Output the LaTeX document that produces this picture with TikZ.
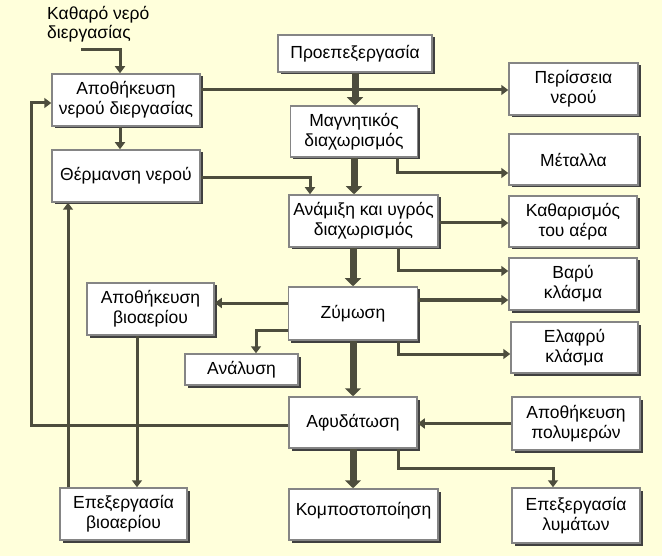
\documentclass[tikz,border=0pt]{standalone}
\usepackage{fontspec}
\setmainfont{Liberation Sans}
\usetikzlibrary{arrows.meta,shadows,calc}
\definecolor{bgyel}{HTML}{FFFFDB}
\definecolor{lncol}{HTML}{4D4D3D}
\definecolor{bdcol}{HTML}{858585}
\definecolor{shcol}{HTML}{404040}
\tikzset{
  box/.style={draw=bdcol, line width=1.5pt, fill=white, inner sep=2pt, align=center,
    font=\fontsize{17.5}{20}\selectfont,
    drop shadow={shadow xshift=2.5pt, shadow yshift=-2.5pt, fill=shcol, opacity=1}},
  flow/.style={draw=lncol, line width=3pt, -{Triangle[length=7pt,width=10pt]}},
  mainflow/.style={draw=lncol, line width=7pt, -{Triangle[length=8pt,width=16pt]}},
  lbl/.style={inner sep=0pt, align=left, font=\fontsize{17.5}{19}\selectfont}
}
\begin{document}
\begin{tikzpicture}[x=1pt,y=-1pt]
\useasboundingbox (0,0) rectangle (667,556);
\fill[white] (0,0) rectangle (667,556);
\fill[bgyel] (0,0) rectangle (662,556);

% label
\node[lbl, anchor=north west] (clean) at (47,6) {Καθαρό νερό\\διεργασίας};
\coordinate (c0) at (81,50);

% boxes
\node[box, minimum width=148pt, minimum height=52pt] (wst) at (126,100) {Αποθήκευση\\νερού διεργασίας};
\node[box, minimum width=148pt, minimum height=52pt] (heat) at (126,176) {Θέρμανση νερού};
\node[box, minimum width=154pt, minimum height=37pt] (pre) at (355,53.5) {Προεπεξεργασία};
\node[box, minimum width=129pt, minimum height=52pt] (exc) at (573.5,89) {Περίσσεια\\νερού};
\node[box, minimum width=127pt, minimum height=51pt] (mag) at (354,131.5) {Μαγνητικός\\διαχωρισμός};
\node[box, minimum width=129pt, minimum height=51pt] (met) at (573.5,159.5) {Μέταλλα};
\node[box, minimum width=149pt, minimum height=52pt] (mix) at (363.5,221) {Ανάμιξη και υγρός\\διαχωρισμός};
\node[box, minimum width=128pt, minimum height=51pt] (air) at (573,221.5) {Καθαρισμός\\του αέρα};
\node[box, minimum width=128pt, minimum height=52pt] (heavy) at (573,284) {Βαρύ\\κλάσμα};
\node[box, minimum width=127pt, minimum height=51pt] (light) at (574.5,347.5) {Ελαφρύ\\κλάσμα};
\node[box, minimum width=129pt, minimum height=53pt] (ferm) at (353,313.5) {Ζύμωση};
\node[box, minimum width=127pt, minimum height=52pt] (biost) at (150.5,309) {Αποθήκευση\\βιοαερίου};
\node[box, minimum width=113pt, minimum height=31pt] (anal) at (241.5,369.5) {Ανάλυση};
\node[box, minimum width=128pt, minimum height=51pt] (dew) at (353,422.5) {Αφυδάτωση};
\node[box, minimum width=128pt, minimum height=53pt] (poly) at (576,423.5) {Αποθήκευση\\πολυμερών};
\node[box, minimum width=149pt, minimum height=51pt, text depth=12pt] (comp) at (363.5,514.5) {Κομποστοποίηση};
\node[box, minimum width=128pt, minimum height=55pt] (wwt) at (576,515.5) {Επεξεργασία\\λυμάτων};
\node[box, minimum width=127pt, minimum height=52pt] (biop) at (123.5,514) {Επεξεργασία\\βιοαερίου};

% thin connectors
\draw[flow] (c0) -| ([xshift=-6pt]wst.north);
\draw[flow] ([xshift=-6pt]wst.south) -- ([xshift=-6pt]heat.north);
\draw[flow] ([yshift=10pt]wst.east) -- ([yshift=10pt]wst.east -| exc.west);
\draw[flow] ([yshift=-2pt]heat.east) -| ([xshift=-53.5pt]mix.north);
\draw[flow] ([xshift=43pt]mag.south) |- ([yshift=-13.5pt]met.west);
\draw[flow] ([yshift=-2pt]mix.east) -- ([yshift=-2pt]mix.east -| air.west);
\draw[flow] ([xshift=34.5pt]mix.south) |- ([yshift=13pt]heavy.west);
\draw[flow] ([yshift=13.5pt]ferm.east) -- ([yshift=13.5pt]ferm.east -| heavy.west);
\draw[flow] ([xshift=45pt]ferm.south) |- ([yshift=-6.5pt]light.west);
\draw[flow] ([yshift=10.5pt]ferm.west) -- ([yshift=10.5pt]ferm.west -| biost.east);
\draw[flow] ([yshift=-16.5pt]ferm.west) -| ([xshift=14.5pt]anal.north);
\draw[flow] ([yshift=-2.5pt]dew.west) -| ([xshift=-20pt,yshift=-3pt]wst.west) -- ([yshift=-3pt]wst.west);
\draw[flow] (poly.west) -- (poly.west -| dew.east);
\draw[flow] ([xshift=45pt]dew.south) -- ++(0,20) -| ([xshift=-23pt]wwt.north);
\draw[flow] ([xshift=-13.5pt]biost.south) -- ([xshift=-13.5pt]biost.south |- biop.north);
\draw[flow] ([xshift=-55.5pt]biop.north) -- ([xshift=-55.5pt]biop.north |- heat.south);

% main chain
\draw[mainflow] (pre.south) -- (pre.south |- mag.north);
\draw[mainflow] (mag.south) -- (mag.south |- mix.north);
\draw[mainflow] (ferm.north |- mix.south) -- (ferm.north);
\draw[mainflow] (ferm.south) -- (ferm.south |- dew.north);
\draw[mainflow] (dew.south) -- (dew.south |- comp.north);
\end{tikzpicture}
\end{document}
